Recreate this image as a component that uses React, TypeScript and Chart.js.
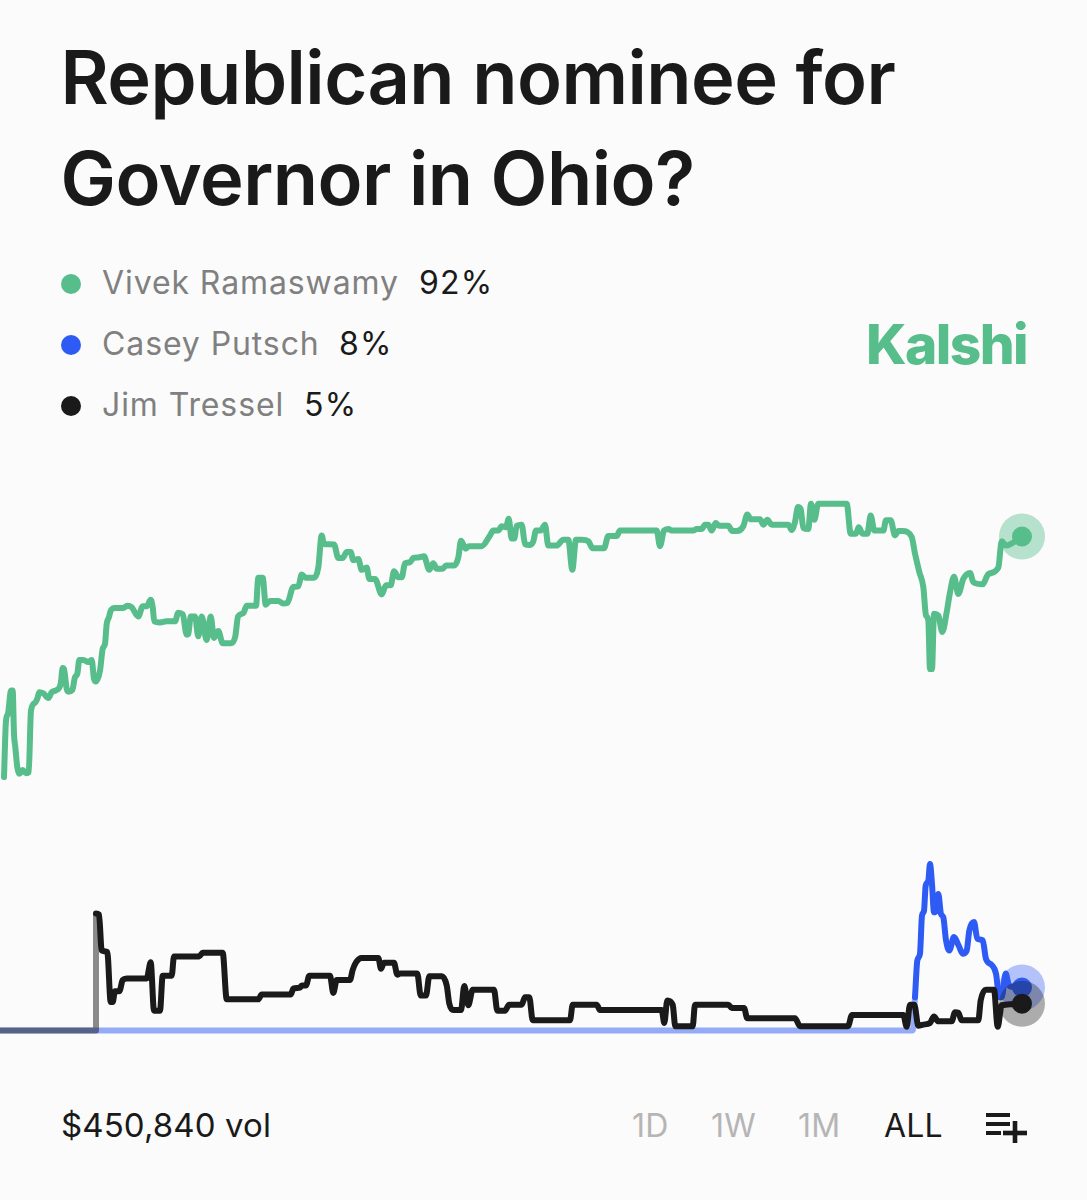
import { useEffect, useRef } from 'react';
import { Chart, registerables } from 'chart.js';

Chart.register(...registerables);

// [time step, chance in %]
const ramaswamy: [number, number][] = [
  [4, 47.2], [6, 57.7], [8, 59], [11, 63.3], [12.7, 63.3], [14, 55.2], [15.3, 52.8], [17.3, 49], [19.3, 47.8], [22.7, 48.5],
  [26, 47.9], [28.7, 48.1], [31, 59.6], [35, 61], [37.3, 61.8], [39.3, 63], [43.3, 62.8], [48.3, 61.9], [51.7, 63], [56.7, 63.4],
  [60.7, 64.6], [62.7, 67.5], [64, 67.3], [66.7, 63.6], [68.3, 63.1], [72.3, 63.4], [75, 65.8], [77.3, 66.4], [79.3, 69], [83.3, 69],
  [88.3, 68.6], [91.7, 69], [94, 65.5], [96, 65], [100, 67], [102.7, 71.1], [105, 72], [106.7, 75.7], [109, 77], [110.7, 78.2],
  [115, 78.7], [123.3, 78.7], [127.3, 79.1], [131.7, 78.8], [138.3, 77.1], [142.7, 79], [146.7, 79], [150.7, 80.2], [152.7, 78.8], [154.3, 76.2],
  [160, 76], [166.7, 76.2], [175, 76.2], [178.3, 77.8], [182.7, 77.5], [186.7, 73.7], [188.3, 73.8], [190.7, 77.1], [195, 77.1], [198.3, 73.4],
  [201.7, 77.1], [206.7, 72.7], [210.7, 77.1], [214, 73.1], [218.3, 74.4], [222.7, 72.1], [230.7, 72.1], [235.3, 73.4], [238, 77.1], [243.3, 77.7],
  [246.7, 79.1], [256, 79.1], [258.3, 84.3], [262.7, 84.3], [265.7, 79.3], [270, 80], [278.3, 80], [283.3, 79.5], [287.3, 79.6], [293.3, 82.6],
  [298.3, 82.7], [301.7, 84.9], [306, 84.3], [314, 84.3], [318.3, 86.2], [321.7, 92.2], [324, 90.6], [334, 90.5], [338.3, 88], [342.7, 88],
  [346.7, 89.1], [350.7, 89.1], [353.3, 87.6], [358.3, 87.8], [361.7, 85.8], [366.7, 86.2], [369.3, 84.1], [375, 84.1], [381.7, 81.2], [386, 82.9],
  [390.7, 82.9], [394, 85.5], [398.3, 84.4], [401.7, 84.4], [405, 87], [410, 87.2], [413.3, 88], [418.3, 88.1], [424, 88.3], [429.3, 85.8],
  [433.3, 87], [436.7, 86], [442.7, 86], [446, 86.6], [454, 86.6], [458.3, 88.1], [461, 91.2], [465.7, 89.7], [469, 90.2], [481.7, 90.2],
  [490, 92.2], [493.3, 93.1], [498.3, 93.1], [501.7, 93.9], [506, 93.7], [508.7, 95.3], [511.7, 91.6], [514.3, 91.6], [516.7, 94], [521.7, 94.2],
  [525, 90.6], [529.3, 90.4], [533.3, 91.1], [536, 93.1], [540.7, 93.1], [545, 94.2], [548.3, 90.3], [556.7, 90.3], [563.3, 91.4], [568.3, 91.4],
  [572.3, 85.8], [576, 91.4], [581.7, 91.4], [588.3, 91.1], [592.7, 89.8], [604, 89.8], [608.3, 92.1], [616.7, 92.1], [620, 93.1], [656.7, 93.1],
  [660, 90.2], [664, 93.1], [668.3, 93.4], [671.7, 93.1], [693.3, 93.1], [696.7, 93.4], [701.7, 93.4], [705, 94.2], [708.3, 94.2], [711.7, 93.1],
  [715.7, 94.5], [719.3, 94], [728.3, 94], [732.3, 93], [736.7, 93], [743.3, 93.9], [747.3, 96.1], [750.7, 95.2], [760, 95.2], [763.3, 94.2],
  [767.3, 95.1], [771.7, 94.2], [788.3, 94.2], [791.7, 93.2], [795, 94.7], [798, 97.5], [800.7, 97.1], [803.3, 93.6], [808.3, 93.4], [811, 98.1],
  [814.3, 95.1], [818.3, 98.1], [846.7, 98.1], [850.7, 92.5], [856, 92.5], [858.7, 93.7], [862.7, 92.5], [867.3, 92.5], [870.7, 95.9], [874.3, 93.1],
  [883.3, 93.1], [886, 95], [890.7, 95], [895, 92.2], [898.3, 93], [902.7, 93], [911.7, 91.9], [915, 88.8], [919.3, 85.4], [923.3, 82.6],
  [926, 77.3], [928.3, 76.4], [930, 67.3], [932, 67.3], [934, 77.6], [938.3, 77.3], [942.3, 74.2], [946.7, 77.9], [950, 81.6], [954, 84.5],
  [958.3, 81.3], [963.3, 84.1], [970, 85.2], [973.3, 83.5], [982.7, 83.1], [988.3, 85], [998.3, 86.2], [1001.7, 91.1], [1006, 90.3], [1022, 92],
];

const putsch: [number, number][] = [
  [0, 0], [912.7, 0], [915, 6.2], [917.3, 13], [920, 14.3], [922, 21.4], [924, 22.3], [925.7, 27], [928.3, 27.9], [930, 31],
  [932, 27.3], [934, 22], [936, 22.3], [938.3, 25.4], [941, 21.7], [943.3, 21.1], [946, 16.8], [949.3, 14.9], [954, 17.4], [958.7, 15.8],
  [962.7, 14.3], [966.7, 14.9], [969.3, 18.6], [974, 20.2], [977.3, 17.1], [982.7, 16.8], [986, 13.3], [991.7, 12.2], [996, 10.6], [999.3, 6.2],
  [1001.7, 6.2], [1005.7, 10.6], [1009, 8.4], [1013.3, 8.1], [1022, 8],
];

const tressel: [number, number][] = [
  [0, 0], [96, 0], [96, 21.8], [99, 21.6], [101.7, 14.9], [107.3, 14.6], [110.7, 5.3], [112.7, 5.3], [115, 7.3], [119.3, 7.3],
  [122.7, 9.4], [126.7, 9.7], [146.7, 9.7], [150.7, 12.7], [154, 3.7], [160, 3.7], [162.7, 10.2], [171.7, 10.2], [174, 13.8], [199.3, 13.8],
  [202.7, 14.5], [222.7, 14.5], [226.7, 5.8], [258.3, 5.8], [261.7, 6.7], [290.7, 6.7], [293.3, 7.8], [300, 8], [301.7, 8.4], [306, 8.4],
  [309.3, 10.2], [330, 10.2], [333.3, 7], [336.7, 9.4], [350, 9.4], [352.7, 11.3], [356, 12.7], [361.7, 13.5], [378.3, 13.5], [381, 11.5],
  [384, 12.6], [394, 12.6], [397.3, 10.4], [400, 10.6], [417.3, 10.6], [420.7, 6.5], [426, 6.5], [429.3, 10.1], [441.7, 10.1], [446.7, 8.4],
  [449.3, 5], [453.3, 3.8], [461, 3.8], [464.3, 8.3], [468.3, 4.7], [472.7, 7.6], [494, 7.6], [497.3, 3.7], [505, 3.7], [509, 4.8],
  [521.7, 4.8], [525, 6.2], [529.3, 6.2], [532.7, 1.9], [570, 1.9], [572.7, 4.8], [596.7, 4.8], [600, 3.8], [661.7, 3.8], [664.3, 1.4],
  [667.3, 5.6], [672.7, 4.8], [675.3, 0.8], [692.7, 0.8], [695, 4.8], [728.3, 4.8], [731.7, 4.2], [744, 4.2], [747.3, 2.3], [795, 2.3],
  [800, 0.8], [848, 0.8], [852, 2.9], [903.3, 2.9], [906.7, 0.7], [910, 4.8], [914.3, 4.8], [918.3, 0.9], [923.3, 1.1], [930, 1.4],
  [934, 2.6], [938.3, 1.7], [951.7, 1.7], [955, 3.4], [958.3, 3.3], [961.7, 1.9], [978.3, 1.9], [980.7, 5.6], [986, 7.6], [994, 7.6],
  [997.7, 0.7], [1001.7, 4.7], [1022, 5],
];

const GREEN = '#56bd8b';
const BLUE = '#2f5bf5';
const BLACK = '#1a1a1a';

const lineDataset = (label: string, rows: [number, number][], color: string, faded: string, fadeUntil: number) => ({
  label,
  data: rows.map(([x, y]) => ({ x, y })),
  borderColor: color,
  backgroundColor: color,
  borderWidth: 6,
  borderJoinStyle: 'round' as const,
  borderCapStyle: 'round' as const,
  cubicInterpolationMode: 'monotone' as const,
  clip: false as const,
  pointBorderWidth: 0,
  pointRadius: (ctx: any) => (ctx.dataIndex === rows.length - 1 ? 10 : 0),
  segment: {
    borderColor: (ctx: any) => (ctx.p1.parsed.x <= fadeUntil ? faded : undefined),
    borderCapStyle: (ctx: any) => (ctx.p1.parsed.x <= fadeUntil ? 'butt' : undefined),
  },
});

const haloDataset = (rows: [number, number][], color: string) => {
  const [x, y] = rows[rows.length - 1];
  return {
    label: 'halo',
    data: [{ x, y }],
    showLine: false,
    clip: false as const,
    pointRadius: 23,
    pointBorderWidth: 0,
    pointBackgroundColor: color,
  };
};

function OddsChart() {
  const canvasRef = useRef<HTMLCanvasElement>(null);

  useEffect(() => {
    if (!canvasRef.current) return;
    const chart = new Chart(canvasRef.current, {
      type: 'line',
      data: {
        // the first dataset is painted last
        datasets: [
          lineDataset('Jim Tressel', tressel, BLACK, 'rgba(26,26,26,0.5)', 96),
          haloDataset(tressel, 'rgba(26,26,26,0.35)'),
          lineDataset('Casey Putsch', putsch, BLUE, 'rgba(47,91,245,0.5)', 915),
          haloDataset(putsch, 'rgba(47,91,245,0.35)'),
          lineDataset('Vivek Ramaswamy', ramaswamy, GREEN, GREEN, -1),
          haloDataset(ramaswamy, 'rgba(86,189,139,0.42)'),
        ] as any,
      },
      options: {
        animation: false,
        responsive: true,
        maintainAspectRatio: false,
        layout: { autoPadding: false, padding: { top: 13.5, bottom: 19.5, left: 0, right: 0 } },
        plugins: { legend: { display: false }, tooltip: { enabled: false } },
        scales: {
          x: { type: 'linear', min: 0, max: 1087, display: false },
          y: { type: 'linear', min: 0, max: 100, display: false },
        },
      },
    });
    return () => chart.destroy();
  }, []);

  return (
    <div style={{ position: 'absolute', left: 0, top: 480, width: 1087, height: 570 }}>
      <canvas ref={canvasRef} role="img" aria-label="Line chart of nominee odds over time" />
    </div>
  );
}

// Inter sits its baseline at 0.864em inside a 1em line box
const text = (x: number, baseline: number, size: number, color: string, weight = 400, spacing = 0): React.CSSProperties => ({
  position: 'absolute',
  left: x,
  top: baseline - size * 0.864,
  height: size,
  lineHeight: `${size}px`,
  fontSize: size,
  color,
  fontWeight: weight,
  letterSpacing: spacing,
  whiteSpace: 'nowrap',
});

const legendRows = [
  { name: 'Vivek Ramaswamy', pct: '92%', color: GREEN, y: 284, pctX: 419 },
  { name: 'Casey Putsch', pct: '8%', color: BLUE, y: 345, pctX: 339 },
  { name: 'Jim Tressel', pct: '5%', color: BLACK, y: 406, pctX: 304 },
];

const ranges = [
  { label: '1D', x: 632, color: '#b5b5b5' },
  { label: '1W', x: 711, color: '#b5b5b5' },
  { label: '1M', x: 798, color: '#b5b5b5' },
  { label: 'ALL', x: 884, color: BLACK },
];

export default function App() {
  return (
    <div style={{ position: 'absolute', left: 0, top: 0, width: 1087, height: 1200, background: '#fbfbfb', fontFamily: 'Inter, sans-serif', overflow: 'hidden' }}>
      <div style={text(60.5, 104, 74, BLACK, 600, -0.55)}>Republican nominee for</div>
      <div style={text(60.5, 205, 74, BLACK, 600, -0.55)}>Governor in Ohio?</div>

      {legendRows.map((r) => (
        <div key={r.name}>
          <div style={{ position: 'absolute', left: 61, top: r.y - 10, width: 20, height: 20, borderRadius: 10, background: r.color }} />
          <div style={text(102, r.y + 11, 32, '#808080', 400, 0.9)}>{r.name}</div>
          <div style={text(r.pctX, r.y + 11, 32, BLACK, 400, 1.2)}>{r.pct}</div>
        </div>
      ))}

      <div style={text(866, 365, 55, GREEN, 800, -1.6)}>Kalshi</div>

      <OddsChart />

      <div style={text(61, 1138, 33, BLACK, 400, 0.1)}>$450,840 vol</div>
      {ranges.map((r) => (
        <div key={r.label} style={text(r.x, 1138, 32, r.color, 400, 0.2)}>{r.label}</div>
      ))}
      <svg style={{ position: 'absolute', left: 980, top: 1105, width: 60, height: 45 }} viewBox="0 0 60 45" fill={BLACK}>
        <rect x="6" y="8" width="24" height="4" />
        <rect x="6" y="17" width="24" height="4" />
        <rect x="6" y="26" width="15" height="4" />
        <rect x="23" y="25.7" width="24" height="4.6" />
        <rect x="32.7" y="16" width="4.6" height="22" />
      </svg>
    </div>
  );
}
